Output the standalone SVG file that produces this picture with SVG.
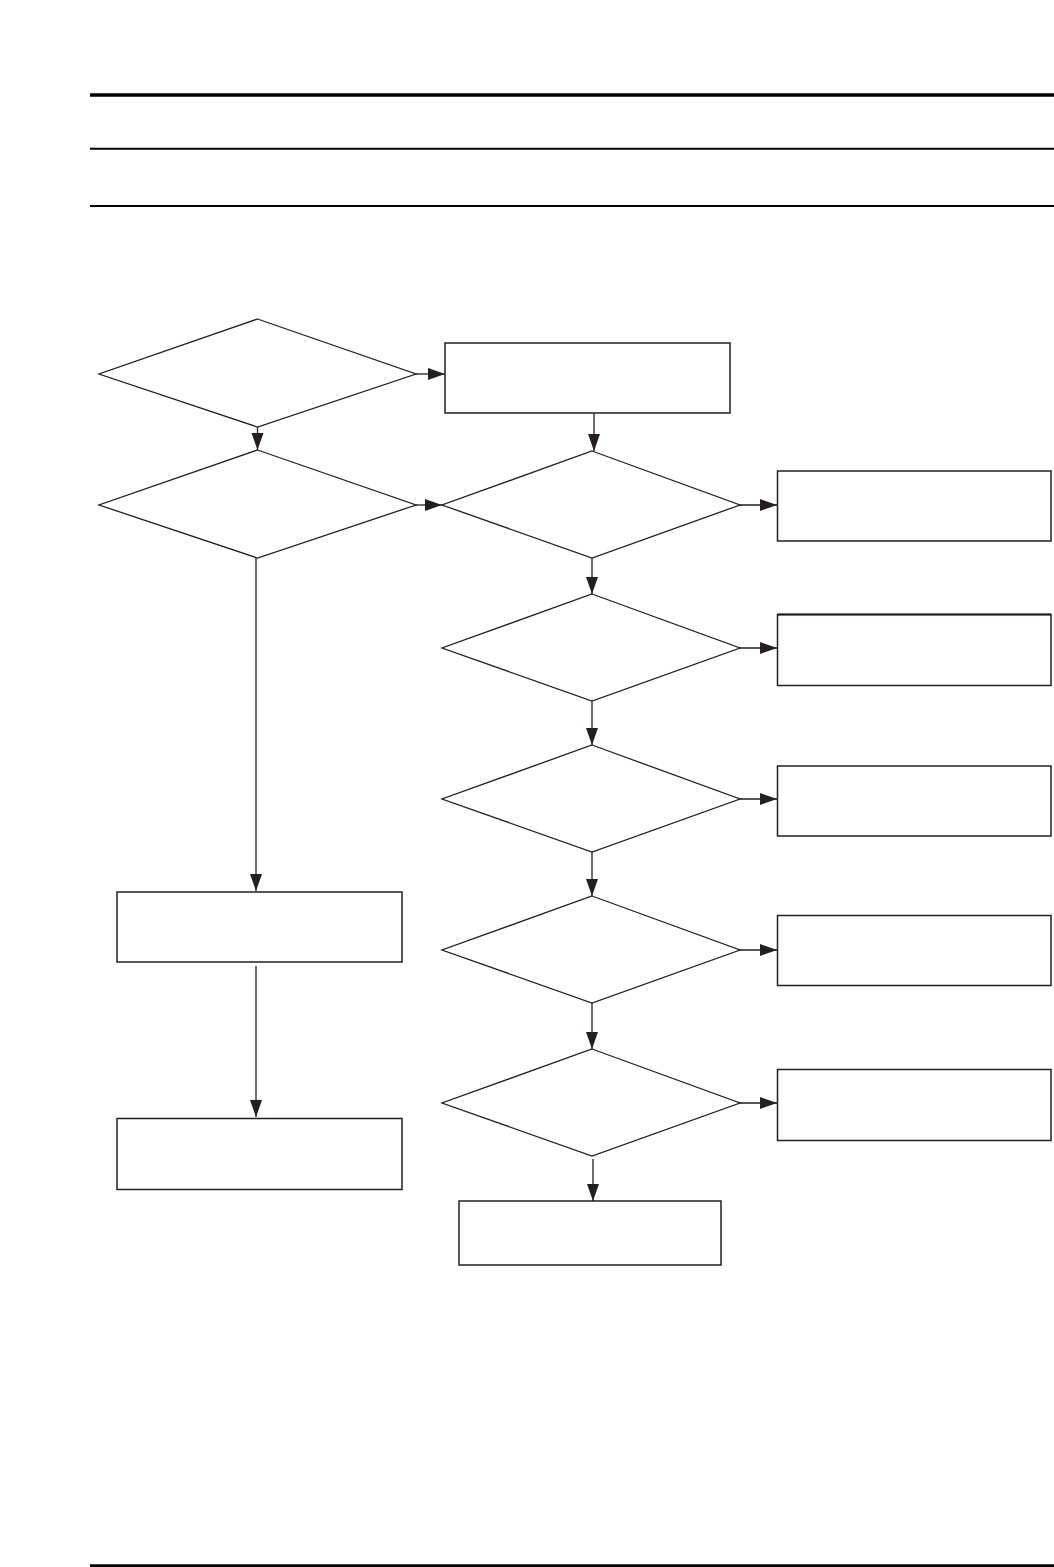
<svg xmlns="http://www.w3.org/2000/svg" width="1054" height="1567" viewBox="0 0 1054 1567">
<defs>
<style>
.node{fill:#fff;stroke:#231f20;stroke-width:1.5}
.dia{fill:#fff;stroke:#231f20;stroke-width:1.3}
.conn{fill:none;stroke:#231f20;stroke-width:1.3}
.rule{stroke:#000}
</style>
<marker id="ah" markerUnits="userSpaceOnUse" markerWidth="18" markerHeight="13" refX="17" refY="6.5" orient="auto">
<path d="M0,0.5 L17,6.5 L0,12.5 Z" fill="#231f20"/>
</marker>
</defs>
<rect width="1054" height="1567" fill="#fff"/>
<g id="rules">
<line class="rule" x1="90" y1="95" x2="1054" y2="95" stroke-width="3.4"/>
<line class="rule" x1="90" y1="148.7" x2="1054" y2="148.7" stroke-width="2"/>
<line class="rule" x1="90" y1="206" x2="1054" y2="206" stroke-width="2"/>
<line class="rule" x1="90" y1="1565.7" x2="1054" y2="1565.7" stroke-width="2.7"/>
</g>
<g id="connectors">
<line class="conn" x1="416" y1="374" x2="445" y2="374" marker-end="url(#ah)"/>
<line class="conn" x1="257.5" y1="427" x2="257.5" y2="450" marker-end="url(#ah)"/>
<line class="conn" x1="416" y1="505" x2="442" y2="505" marker-end="url(#ah)"/>
<line class="conn" x1="594" y1="413" x2="594" y2="451" marker-end="url(#ah)" stroke-width="1.8"/>
<line class="conn" x1="740" y1="505" x2="777" y2="505" marker-end="url(#ah)"/>
<line class="conn" x1="592" y1="558" x2="592" y2="594" marker-end="url(#ah)" stroke-width="1.8"/>
<line class="conn" x1="740" y1="648" x2="777" y2="648" marker-end="url(#ah)"/>
<line class="conn" x1="592" y1="701" x2="592" y2="745" marker-end="url(#ah)"/>
<line class="conn" x1="740" y1="799" x2="777" y2="799" marker-end="url(#ah)"/>
<line class="conn" x1="592" y1="852" x2="592" y2="896" marker-end="url(#ah)"/>
<line class="conn" x1="740" y1="950" x2="777" y2="950" marker-end="url(#ah)"/>
<line class="conn" x1="592" y1="1003" x2="592" y2="1049" marker-end="url(#ah)"/>
<line class="conn" x1="740" y1="1103" x2="777" y2="1103" marker-end="url(#ah)"/>
<line class="conn" x1="593" y1="1159" x2="593" y2="1201" marker-end="url(#ah)"/>
<line class="conn" x1="256" y1="558" x2="256" y2="891" marker-end="url(#ah)"/>
<line class="conn" x1="256" y1="966" x2="256" y2="1117" marker-end="url(#ah)"/>
</g>
<g id="d1"><polygon class="dia" points="257.5,319 416,374 257.5,427 99,374"/></g>
<g id="r1"><rect class="node" x="445" y="343" width="285" height="70"/></g>
<g id="d2"><polygon class="dia" points="257.5,450 416,505 257.5,558 99,505"/></g>
<g id="d3"><polygon class="dia" points="592,451 740,505 592,558 442,505"/></g>
<g id="d4"><polygon class="dia" points="592,594 740,648 592,701 442,648"/></g>
<g id="d5"><polygon class="dia" points="592,745 740,799 592,852 442,799"/></g>
<g id="d6"><polygon class="dia" points="592,896 740,950 592,1003 442,950"/></g>
<g id="d7"><polygon class="dia" points="592,1049 740,1103 592,1156 442,1103"/></g>
<g id="rr1"><rect class="node" x="777.5" y="471" width="273.5" height="70"/></g>
<g id="rr2"><rect class="node" x="777.5" y="614.5" width="273.5" height="71"/><line x1="777.5" y1="614.5" x2="1051" y2="614.5" stroke="#231f20" stroke-width="2"/></g>
<g id="rr3"><rect class="node" x="777.5" y="766" width="273.5" height="70"/></g>
<g id="rr4"><rect class="node" x="777.5" y="915.5" width="273.5" height="70"/></g>
<g id="rr5"><rect class="node" x="777.5" y="1069.5" width="273.5" height="71"/></g>
<g id="rb"><rect class="node" x="459" y="1201" width="262" height="64"/></g>
<g id="l1"><rect class="node" x="117" y="892" width="285" height="70"/></g>
<g id="l2"><rect class="node" x="117" y="1118.5" width="285" height="71"/></g>
</svg>
